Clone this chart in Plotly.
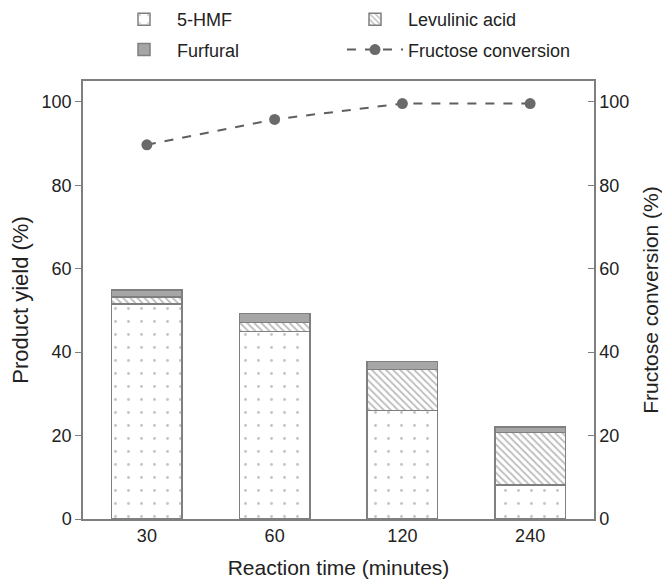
import plotly.graph_objects as go

times = ["30", "60", "120", "240"]
hmf = [51.6, 44.9, 26.0, 8.2]
levulinic = [1.6, 2.2, 9.9, 12.5]
furfural = [1.7, 2.2, 1.8, 1.3]
conversion = [89.7, 95.8, 99.6, 99.6]

yield_ticks = [0, 20, 40, 60, 80, 100]

edge = "#7f7f7f"
font = "Liberation Sans, Arial, sans-serif"

fig = go.Figure()
fig.add_trace(go.Bar(
    x=times, y=hmf, name="5-HMF", legend="legend", legendgroup="a",
    marker=dict(color="white", line=dict(color=edge, width=1.5),
                pattern=dict(shape=".", fgcolor="#8a8a8a", bgcolor="white",
                             size=13, solidity=0.04)),
))
fig.add_trace(go.Bar(
    x=times, y=levulinic, name="Levulinic acid", legend="legend2", legendgroup="b",
    marker=dict(color="white", line=dict(color=edge, width=1.5),
                pattern=dict(shape="\\", fgcolor="#7a7a7a", bgcolor="white",
                             size=5, solidity=0.35)),
))
fig.add_trace(go.Bar(
    x=times, y=furfural, name="Furfural", legend="legend", legendgroup="c",
    marker=dict(color="#a6a6a6", line=dict(color=edge, width=1.5)),
))
fig.add_trace(go.Scatter(
    x=times, y=conversion, name="Fructose conversion", yaxis="y2",
    legend="legend2", legendgroup="d",
    mode="lines+markers",
    line=dict(color="#5f5f5f", width=2, dash="dash"),
    marker=dict(color="#6a6a6a", size=11),
))

W, H = 662, 577
ml, mr, mt, mb = 75, 76, 73, 66
ph = H - mt - mb
pw = W - ml - mr

leg_common = dict(orientation="v", yref="paper", xref="paper",
                  y=1 + 80 / ph, yanchor="top", xanchor="left",
                  traceorder="grouped", tracegroupgap=4,
                  font=dict(size=18, color="#222222"),
                  bgcolor="rgba(0,0,0,0)", itemwidth=56)

fig.update_layout(
    width=W, height=H,
    barmode="stack", bargap=0.45,
    plot_bgcolor="white", paper_bgcolor="white",
    margin=dict(l=ml, r=mr, t=mt, b=mb, autoexpand=False),
    font=dict(family=font, size=18, color="#222222"),
    legend=dict(leg_common, x=(103 - ml) / pw),
    legend2=dict(leg_common, x=(334 - ml) / pw),
    xaxis=dict(
        type="category", showline=True, linecolor=edge, linewidth=1.5, mirror=True,
        ticks="", title=dict(text="Reaction time (minutes)", font=dict(size=21)),
        tickfont=dict(size=18),
    ),
    yaxis=dict(
        range=[0, 105], tickvals=yield_ticks, showline=True, linecolor=edge, linewidth=1.5,
        ticks="outside", ticklen=6, tickcolor=edge, showgrid=False, zeroline=False,
        title=dict(text="Product yield (%)", font=dict(size=22)),
        tickfont=dict(size=18),
    ),
    yaxis2=dict(
        range=[0, 105], tickvals=yield_ticks, overlaying="y", side="right",
        showline=True, linecolor=edge, linewidth=1.5,
        ticks="inside", ticklen=6, tickcolor=edge, showgrid=False, zeroline=False,
        title=dict(text="Fructose conversion (%)", font=dict(size=21)),
        tickfont=dict(size=18),
    ),
)

fig.write_html("out.html")
